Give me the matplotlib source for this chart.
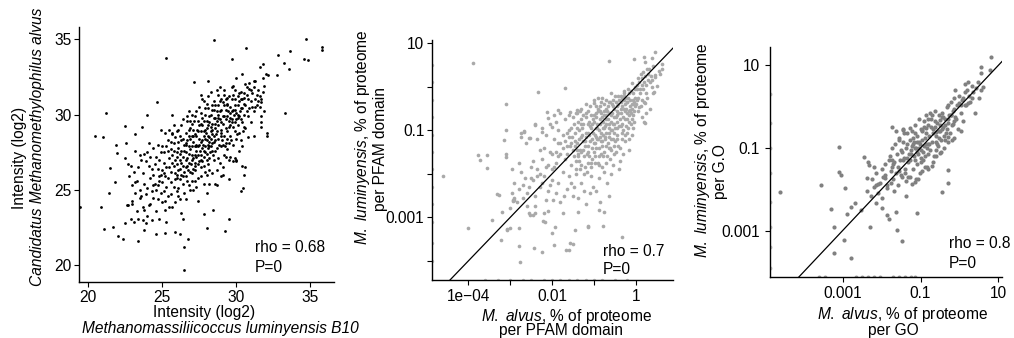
import matplotlib
matplotlib.use("Agg")
import matplotlib.pyplot as plt
import numpy as np

plt.rcParams['font.family'] = ['Liberation Sans', 'DejaVu Sans']
plt.rcParams['font.size'] = 11.2
plt.rcParams['mathtext.fontset'] = 'custom'
plt.rcParams['mathtext.rm'] = 'Liberation Sans'
plt.rcParams['mathtext.it'] = 'Liberation Sans:italic'

# ---- panel 1: log2 intensities (M. luminyensis x, M. alvus y) ----
p1_pts = [
    # sparse / outliers
    (19.5, 23.85), (20.5, 28.55), (20.9, 23.9), (21.0, 28.5), (21.1, 22.4), (21.2, 30.1), (21.4, 24.8),
    (21.5, 26.45), (21.7, 22.55), (21.8, 25.55), (21.9, 27.95), (21.95, 27.45), (22.0, 21.95), (22.4, 21.75),
    (22.5, 29.25), (22.5, 27.1), (22.5, 22.8), (22.6, 28.1), (22.65, 24.0), (22.7, 26.75), (22.9, 23.1),
    (23.0, 24.3), (23.15, 25.55), (23.2, 28.7), (23.4, 21.65), (23.65, 29.2), (23.8, 23.65), (23.75, 23.0),
    (23.8, 22.35), (24.0, 29.95), (24.65, 30.8), (24.6, 22.05), (25.2, 22.15), (25.3, 33.75), (25.65, 29.95),
    (25.65, 28.75), (25.9, 22.2), (26.2, 22.05), (26.5, 21.2), (26.75, 21.75), (26.5, 19.7), (27.15, 32.15),
    (28.1, 32.2), (28.5, 34.95), (28.05, 22.5), (29.25, 22.3), (29.5, 23.1), (29.7, 33.65), (30.65, 34.4),
    (30.4, 32.7), (33.3, 30.1), (32.8, 33.95), (33.2, 33.4), (33.55, 33.0), (33.6, 34.2), (34.6, 33.65),
    (34.85, 33.6), (34.7, 35.0), (35.8, 34.5), (35.8, 34.3), (32.75, 32.6), (32.15, 32.6), (31.8, 33.35),
    (31.6, 33.15), (31.2, 32.2), (32.05, 28.75), (32.1, 28.55), (31.7, 29.15), (31.65, 29.5), (31.2, 28.55),
    (30.6, 26.5), (30.5, 26.0), (30.45, 25.1), (30.3, 24.9), (28.45, 23.65), (27.8, 23.4), (28.7, 25.3),
    (29.1, 26.0), (29.5, 25.75), (29.95, 27.1),
    # 22.5 - 23.5
    (22.8, 25.9), (23.0, 25.3), (23.1, 26.2), (23.2, 24.8), (23.3, 25.6), (23.4, 26.5), (23.0, 24.1),
    (23.3, 23.6), (23.5, 27.3), (23.5, 24.5), (22.9, 26.6), (23.2, 27.6), (23.4, 23.1), (23.1, 22.9),
    (22.7, 24.0), (23.5, 25.0),
    # 23.5 - 24.5
    (23.6, 27.0), (23.7, 26.1), (23.8, 25.4), (23.9, 24.7), (24.0, 27.5), (24.1, 26.6), (24.2, 25.8),
    (24.3, 24.9), (24.4, 27.8), (23.7, 23.9), (23.9, 22.8), (24.0, 23.3), (24.2, 24.1), (24.4, 26.0),
    (23.8, 27.4), (24.1, 28.1), (24.3, 23.0), (24.5, 25.4), (24.0, 25.1), (23.6, 24.6), (24.2, 27.2),
    (24.4, 24.5), (23.9, 26.9), (24.1, 24.0), (24.3, 26.4),
    # 24.5 - 25.5
    (24.6, 27.2), (24.7, 26.4), (24.8, 25.6), (24.9, 24.8), (25.0, 27.9), (25.1, 26.8), (25.2, 25.9),
    (25.3, 25.2), (25.4, 28.3), (24.6, 23.6), (24.8, 23.1), (25.0, 24.2), (25.2, 23.7), (25.4, 24.6),
    (24.7, 28.0), (24.9, 26.0), (25.1, 27.5), (25.3, 26.5), (25.5, 27.1), (24.6, 25.0), (24.8, 27.0),
    (25.0, 25.5), (25.2, 28.8), (25.4, 25.8), (25.5, 23.9), (24.7, 24.4), (25.1, 24.9), (25.3, 22.9),
    (25.0, 26.3), (24.9, 29.0), (25.5, 29.0),
    (24.5, 26.7), (24.8, 25.9), (25.1, 26.1), (25.4, 27.6), (24.4, 25.3), (25.2, 24.3), (25.5, 26.5),
    (24.7, 25.3), (24.9, 27.5), (25.3, 27.9),
    # 25.5 - 26.5
    (25.6, 26.2), (25.7, 27.3), (25.8, 28.1), (25.9, 25.7), (26.0, 26.7), (26.1, 27.8), (26.2, 28.6),
    (26.3, 26.0), (26.4, 27.2), (25.6, 24.7), (25.8, 25.2), (26.0, 25.8), (26.2, 24.4), (26.4, 25.4),
    (25.7, 28.7), (25.9, 27.0), (26.1, 26.3), (26.3, 29.3), (26.5, 28.0), (25.6, 28.2), (25.8, 26.6),
    (26.0, 28.9), (26.2, 27.0), (26.4, 26.6), (25.7, 23.9), (25.9, 24.2), (26.1, 25.1), (26.3, 23.5),
    (26.5, 24.8), (26.0, 27.5), (26.2, 25.7), (25.8, 29.3), (26.4, 29.7), (25.9, 26.1), (26.1, 28.2),
    (26.3, 27.6), (26.5, 26.2), (25.6, 27.7), (26.2, 26.4), (26.0, 24.9), (26.4, 23.1),
    (25.6, 25.5), (25.7, 26.8), (25.8, 27.6), (25.9, 28.5), (26.0, 26.0), (26.1, 24.6), (26.2, 27.4),
    (26.3, 28.3), (26.4, 25.9), (26.5, 27.6), (26.0, 27.2), (26.3, 26.8), (26.1, 29.0), (26.4, 28.4),
    # 26.5 - 27.5
    (26.6, 27.5), (26.7, 28.3), (26.8, 26.8), (26.9, 29.1), (27.0, 27.9), (27.1, 26.4), (27.2, 28.7),
    (27.3, 27.2), (27.4, 29.6), (26.6, 25.9), (26.8, 25.3), (27.0, 26.1), (27.2, 25.6), (27.4, 26.7),
    (26.7, 29.6), (26.9, 27.7), (27.1, 28.2), (27.3, 30.2), (27.5, 28.4), (26.6, 28.8), (26.8, 27.9),
    (27.0, 29.4), (27.2, 27.3), (27.4, 27.9), (26.7, 26.6), (26.9, 26.2), (27.1, 27.1), (27.3, 25.2),
    (27.5, 26.9), (27.0, 30.0), (26.8, 30.2), (27.2, 29.9), (26.6, 24.4), (27.4, 24.3), (26.9, 25.0),
    (27.1, 29.0), (27.3, 28.6), (27.5, 30.5), (26.7, 27.1), (27.0, 28.6), (27.2, 26.8), (27.4, 28.9),
    (26.8, 28.6), (27.1, 25.0), (26.6, 26.5), (27.3, 27.6),
    (26.6, 27.0), (26.65, 28.0), (26.7, 25.6), (26.75, 26.3), (26.8, 29.0), (26.85, 27.4), (26.9, 28.4),
    (26.95, 26.7), (27.0, 25.6), (27.05, 27.0), (27.1, 28.6), (27.15, 29.6), (27.2, 27.9), (27.25, 26.3),
    (27.3, 28.0), (27.35, 29.0), (27.4, 27.3), (27.45, 25.8), (27.5, 29.3), (26.6, 28.1), (26.9, 29.6),
    (27.2, 26.6), (27.0, 27.3), (27.3, 27.9), (26.7, 29.9),
    # 27.5 - 28.5
    (27.6, 28.9), (27.7, 29.8), (27.8, 27.6), (27.9, 30.4), (28.0, 28.3), (28.1, 29.3), (28.2, 27.1),
    (28.3, 30.0), (28.4, 28.7), (27.6, 27.3), (27.8, 26.6), (28.0, 27.4), (28.2, 26.3), (28.4, 27.6),
    (27.7, 28.3), (27.9, 29.0), (28.1, 28.0), (28.3, 29.2), (28.5, 29.8), (27.6, 30.1), (27.8, 28.6),
    (28.0, 30.7), (28.2, 28.5), (28.4, 30.6), (27.7, 26.9), (27.9, 27.9), (28.1, 26.7), (28.3, 27.9),
    (28.5, 28.2), (27.6, 25.9), (27.8, 25.4), (28.0, 26.0), (28.2, 25.4), (28.4, 26.1), (27.7, 31.0),
    (28.1, 31.2), (28.3, 31.5), (27.9, 28.4), (28.0, 29.6), (28.2, 29.9), (28.4, 29.4), (27.6, 29.4),
    (27.8, 30.9), (28.5, 27.0), (28.1, 27.8), (27.9, 26.2), (28.3, 28.4), (27.7, 27.8), (28.5, 30.3),
    (28.0, 24.8),
    (27.55, 27.6), (27.6, 28.2), (27.65, 26.5), (27.7, 29.3), (27.75, 28.0), (27.8, 29.6), (27.85, 27.2),
    (27.9, 30.0), (27.95, 28.8), (28.0, 27.0), (28.05, 29.1), (28.1, 30.4), (28.15, 28.2), (28.2, 29.5),
    (28.25, 27.5), (28.3, 28.9), (28.35, 30.3), (28.4, 29.0), (28.45, 27.3), (28.5, 28.6), (27.5, 28.0),
    (27.8, 28.9), (28.1, 28.6), (28.4, 28.1), (27.6, 27.0), (27.9, 27.5), (28.2, 27.9), (28.5, 30.9),
    (27.6, 31.3),
    # 28.5 - 29.5
    (28.6, 29.1), (28.7, 30.2), (28.8, 28.4), (28.9, 30.9), (29.0, 29.5), (29.1, 28.0), (29.2, 30.6),
    (29.3, 29.1), (29.4, 31.1), (28.6, 27.6), (28.8, 27.1), (29.0, 27.9), (29.2, 27.3), (29.4, 28.4),
    (28.7, 28.9), (28.9, 29.7), (29.1, 29.9), (29.3, 30.3), (29.5, 29.6), (28.6, 30.6), (28.8, 31.3),
    (29.0, 31.0), (29.2, 28.6), (29.4, 29.9), (28.7, 26.3), (28.9, 26.8), (29.1, 26.5), (29.3, 27.2),
    (29.5, 28.1), (28.6, 28.3), (29.0, 28.6), (29.2, 31.6), (29.4, 30.6), (28.8, 29.8), (29.1, 30.8),
    (29.3, 28.1), (28.6, 25.4), (29.0, 25.9), (29.5, 27.0), (28.9, 31.8), (29.4, 27.7), (28.7, 31.6),
    (28.55, 29.4), (28.6, 29.8), (28.65, 28.7), (28.7, 27.8), (28.75, 30.6), (28.8, 29.3), (28.85, 28.0),
    (28.9, 30.2), (28.95, 29.0), (29.0, 30.3), (29.05, 28.3), (29.1, 29.4), (29.15, 31.3), (29.2, 29.9),
    (29.25, 27.9), (29.3, 29.7), (29.35, 30.7), (29.4, 28.9), (29.45, 30.2), (29.5, 31.2), (28.7, 29.6),
    (29.0, 28.8), (29.3, 31.0), (28.8, 30.0),
    # 29.5 - 30.5
    (29.6, 30.1), (29.7, 31.0), (29.8, 29.2), (29.9, 30.6), (30.0, 29.7), (30.1, 31.2), (30.2, 28.8),
    (30.3, 30.4), (30.4, 29.5), (29.6, 28.6), (29.8, 28.0), (30.0, 28.4), (30.2, 27.6), (30.4, 27.9),
    (29.7, 29.5), (29.9, 31.6), (30.1, 30.0), (30.3, 31.5), (30.5, 30.7), (29.6, 27.2), (29.8, 26.9),
    (30.0, 27.0), (30.2, 29.9), (30.4, 31.0), (29.7, 31.8), (30.0, 32.4), (29.9, 28.9), (30.1, 29.3),
    (30.3, 28.3), (30.5, 29.2), (29.6, 29.8), (30.2, 30.9), (29.8, 30.3), (30.0, 26.9), (30.4, 26.6),
    (29.55, 29.2), (29.6, 30.5), (29.65, 28.3), (29.7, 30.2), (29.75, 29.7), (29.8, 31.3), (29.85, 30.0),
    (29.9, 29.5), (29.95, 31.0), (30.0, 30.1), (30.05, 28.7), (30.1, 30.6), (30.15, 29.8), (30.2, 31.4),
    (30.25, 30.2), (30.3, 29.7), (30.35, 31.0), (30.4, 30.4), (30.45, 28.9), (30.5, 31.4), (30.55, 30.0),
    (29.6, 29.3), (29.9, 30.3), (29.8, 31.9),
    # 30.5 - 32.5
    (30.6, 30.6), (30.7, 31.3), (30.8, 29.9), (30.9, 31.7), (31.0, 30.9), (31.1, 31.4), (31.2, 30.2),
    (31.3, 31.0), (31.4, 30.6), (30.6, 29.1), (30.8, 28.5), (31.0, 29.5), (30.6, 32.0), (30.9, 32.1),
    (31.2, 31.8), (31.4, 31.3), (30.7, 30.2), (31.1, 30.5), (31.3, 32.2), (31.5, 31.6), (30.5, 31.1),
    (30.8, 31.0), (31.5, 30.9), (31.6, 31.2), (31.7, 30.8), (31.8, 31.5), (31.7, 31.0), (31.9, 31.9),
    (31.6, 30.5), (31.8, 32.4), (32.0, 32.7), (31.7, 29.9), (31.9, 30.2), (30.7, 31.8), (31.0, 31.6),
    (30.9, 30.4), (31.3, 30.5),
]

# ---- panel 2: log10 % of proteome per PFAM domain (alvus x, luminyensis y) ----
p2_pts = [
    (-4.61, -2.05), (-3.9, 0.54), (-4.0, -3.25), (-3.76, -1.57), (-3.72, -1.68), (-3.55, -1.57), (-3.55, -1.87),
    (-3.43, -3.05), (-3.31, -2.47), (-3.22, -3.52), (-3.2, -2.87), (-3.1, -0.39), (-3.1, -0.99), (-3.09, -1.54),
    (-3.07, -3.28), (-3.0, -2.79), (-2.94, -2.62), (-2.91, -2.59), (-2.78, -3.67), (-2.76, -4.02), (-2.78, -3.25),
    (-2.66, -1.04), (-2.43, -3.71), (-2.33, -0.11), (-2.23, -3.79), (-2.01, -3.37), (-1.95, -3.64), (-1.7, -0.03),
    (-1.66, -3.76), (-1.59, -3.74), (-1.57, -3.58), (-1.37, -2.87), (-1.15, -3.21), (-0.79, -3.21), (-0.75, -2.88),
    (-0.63, 0.6), (-0.33, -3.46), (-0.04, 0.63), (0.2, -0.82), (0.19, 0.68), (0.23, 0.56), (0.39, 0.66),
    (0.47, 0.81), (0.41, 0.47), (0.59, 0.29), (0.47, 0.22), (0.43, -0.11), (0.63, 0.52), (0.55, 0.36),
    (0.5, 0.02), (0.62, 0.4), (-3.16, -1.22), (-3.08, -3.27), (-3.01, -3.25), (-2.93, -2.6), (-2.52, -2.95),
    (-2.40, -2.90), (-2.17, -3.10), (-2.21, -3.08), (-1.93, -3.22), (-1.50, -3.61), (-1.45, -3.28), (-1.13, -3.22),
    (-0.89, -2.82), (-2.12, -0.57), (-1.85, -0.53), (-1.57, -0.57), (-1.41, -0.53), (-1.01, -0.37), (-0.65, -0.34),
    (-0.29, -0.15), (-0.05, -0.34), (0.07, -0.46), (0.23, -0.38), (-0.13, -0.53), (0.21, -0.83), (0.41, -0.14),
    (-2.75, -1.07), (-2.67, -1.02), (-2.55, -1.18), (-2.40, -0.86), (-2.24, -1.03), (-2.09, -0.72), (-2.0, -0.92),
    (-3.10, -1.61), (-3.28, -2.49),
    # -3.0 .. -2.5
    (-2.95, -2.45), (-2.9, -2.2), (-2.85, -2.65), (-2.8, -2.35), (-2.75, -1.95), (-2.7, -2.55), (-2.65, -2.1),
    (-2.6, -2.75), (-2.55, -2.3), (-2.5, -1.85), (-2.9, -2.55), (-2.7, -2.25), (-2.6, -2.45), (-2.55, -2.9),
    (-2.8, -1.75), (-2.52, -1.18), (-2.62, -1.3), (-2.95, -1.9), (-2.75, -1.15), (-2.5, -2.1),
    # -2.5 .. -2.0
    (-2.45, -2.15), (-2.4, -2.5), (-2.35, -1.9), (-2.3, -2.3), (-2.25, -1.65), (-2.2, -2.05), (-2.15, -2.6),
    (-2.1, -1.8), (-2.05, -2.25), (-2.0, -1.55), (-2.45, -1.7), (-2.4, -2.75), (-2.3, -2.0), (-2.2, -1.4),
    (-2.1, -2.4), (-2.35, -1.2), (-2.25, -0.95), (-2.15, -1.1), (-2.05, -0.85), (-2.4, -0.88), (-2.3, -1.45),
    (-2.1, -2.85), (-2.0, -2.15), (-2.45, -2.95), (-2.2, -2.9), (-2.05, -1.5), (-2.15, -1.85), (-2.25, -2.2),
    (-2.35, -2.05), (-2.0, -1.9),
    # -2.0 .. -1.5
    (-1.95, -1.85), (-1.9, -1.5), (-1.85, -2.2), (-1.8, -1.3), (-1.75, -1.95), (-1.7, -1.65), (-1.65, -2.35),
    (-1.6, -1.15), (-1.55, -1.8), (-1.5, -1.45), (-1.95, -1.2), (-1.9, -2.45), (-1.85, -1.0), (-1.8, -2.65),
    (-1.75, -1.4), (-1.7, -0.75), (-1.65, -1.05), (-1.6, -2.05), (-1.55, -0.95), (-1.5, -2.5), (-1.95, -0.65),
    (-1.85, -1.6), (-1.75, -2.9), (-1.65, -1.55), (-1.55, -2.2), (-1.9, -0.8), (-1.8, -0.6), (-1.7, -1.25),
    (-1.6, -0.65), (-1.52, -1.15), (-1.98, -2.6), (-1.72, -2.5), (-1.58, -1.35), (-1.6, -1.0), (-1.55, -1.3),
    (-1.5, -0.7), (-1.65, -1.35), (-1.75, -1.1), (-1.8, -1.55), (-1.85, -1.3), (-1.9, -1.75),
    # -1.5 .. -1.0
    (-1.48, -1.6), (-1.45, -1.05), (-1.42, -1.9), (-1.4, -1.3), (-1.38, -0.8), (-1.35, -1.7), (-1.32, -1.15),
    (-1.3, -2.2), (-1.28, -0.95), (-1.25, -1.45), (-1.22, -1.85), (-1.2, -1.05), (-1.18, -0.7), (-1.15, -1.35),
    (-1.12, -1.6), (-1.1, -0.9), (-1.08, -2.05), (-1.05, -1.2), (-1.02, -0.75), (-1.0, -1.5), (-1.47, -2.3),
    (-1.43, -0.6), (-1.37, -2.55), (-1.33, -0.55), (-1.27, -1.25), (-1.23, -2.4), (-1.17, -1.55), (-1.13, -0.55),
    (-1.07, -1.75), (-1.03, -2.3), (-1.46, -1.25), (-1.41, -1.45), (-1.36, -1.0), (-1.31, -1.8), (-1.26, -0.65),
    (-1.21, -1.25), (-1.16, -1.95), (-1.11, -1.1), (-1.06, -0.95), (-1.01, -1.3), (-1.44, -2.0), (-1.34, -1.45),
    (-1.24, -1.6), (-1.14, -0.85), (-1.04, -1.65), (-1.3, -0.85), (-1.2, -2.7), (-1.1, -2.45), (-1.48, -0.85),
    (-1.39, -1.6),
    (-1.45, -1.35), (-1.4, -0.95), (-1.38, -1.55), (-1.35, -1.2), (-1.32, -0.75), (-1.3, -1.5), (-1.28, -1.1),
    (-1.25, -0.85), (-1.22, -1.35), (-1.2, -0.6), (-1.18, -1.15), (-1.15, -1.75), (-1.12, -0.8), (-1.1, -1.25),
    (-1.08, -0.65), (-1.05, -1.4), (-1.02, -1.05), (-1.42, -1.7), (-1.33, -1.9), (-1.24, -2.0), (-1.15, -1.5),
    (-1.06, -1.85), (-1.2, -0.4), (-1.1, -0.45), (-1.3, -0.5), (-1.4, -0.6), (-1.15, -1.05), (-1.05, -0.85),
    # -1.0 .. -0.5
    (-0.98, -1.1), (-0.96, -0.6), (-0.94, -1.4), (-0.92, -0.85), (-0.9, -1.75), (-0.88, -1.0), (-0.86, -0.45),
    (-0.84, -1.25), (-0.82, -1.55), (-0.8, -0.7), (-0.78, -1.1), (-0.76, -1.95), (-0.74, -0.9), (-0.72, -0.5),
    (-0.7, -1.35), (-0.68, -1.6), (-0.66, -0.75), (-0.64, -1.15), (-0.62, -0.35), (-0.6, -1.0), (-0.58, -1.45),
    (-0.56, -0.6), (-0.54, -1.8), (-0.52, -0.85), (-0.5, -1.25), (-0.97, -1.3), (-0.93, -0.95), (-0.89, -2.1),
    (-0.85, -0.75), (-0.81, -1.35), (-0.77, -0.55), (-0.73, -1.2), (-0.69, -2.2), (-0.65, -0.95), (-0.61, -1.65),
    (-0.57, -0.4), (-0.53, -1.05), (-0.95, -2.4), (-0.87, -1.6), (-0.79, -0.95), (-0.71, -0.65), (-0.63, -1.4),
    (-0.55, -1.2), (-0.91, -0.5), (-0.83, -0.35), (-0.75, -1.5), (-0.67, -0.45), (-0.59, -0.8), (-0.51, -0.5),
    (-0.99, -0.8), (-0.9, -1.2), (-0.8, -1.85), (-0.7, -0.85), (-0.6, -2.0), (-0.52, -1.55), (-0.85, -2.65),
    (-0.65, -2.5),
    (-1.0, -0.65), (-0.98, -1.6), (-0.96, -0.95), (-0.94, -0.7), (-0.92, -1.2), (-0.9, -0.55), (-0.88, -1.4),
    (-0.86, -0.85), (-0.84, -1.05), (-0.82, -0.6), (-0.8, -1.25), (-0.78, -0.8), (-0.76, -0.4), (-0.74, -1.15),
    (-0.72, -0.75), (-0.7, -1.05), (-0.68, -0.55), (-0.66, -1.3), (-0.64, -0.85), (-0.62, -0.6), (-0.6, -1.2),
    (-0.58, -0.65), (-0.56, -1.0), (-0.54, -0.45), (-0.52, -0.7), (-0.5, -0.95), (-0.97, -1.75), (-0.88, -1.8),
    (-0.79, -1.6), (-0.7, -1.75), (-0.61, -1.4), (-0.52, -1.35), (-1.0, -0.3), (-0.8, -0.25), (-0.6, -0.15),
    (-0.9, -0.25), (-0.7, -0.3), (-0.95, -1.15), (-0.85, -1.15), (-0.75, -0.95), (-0.65, -1.05), (-0.55, -0.85),
    (-0.95, -0.45), (-0.85, -0.55), (-0.75, -0.65), (-0.65, -0.6), (-0.55, -0.3),
    # -0.5 .. 0
    (-0.48, -0.7), (-0.45, -1.1), (-0.42, -0.4), (-0.4, -0.9), (-0.38, -1.4), (-0.35, -0.6), (-0.32, -0.25),
    (-0.3, -1.0), (-0.28, -0.5), (-0.25, -1.25), (-0.22, -0.75), (-0.2, -0.35), (-0.18, -0.95), (-0.15, -0.15),
    (-0.12, -0.6), (-0.1, -1.1), (-0.08, -0.4), (-0.05, -0.8), (-0.02, -0.25), (-0.47, -1.5), (-0.43, -0.2),
    (-0.37, -1.7), (-0.33, -0.85), (-0.27, -0.1), (-0.23, -0.5), (-0.17, -1.45), (-0.13, -0.3), (-0.07, -0.65),
    (-0.03, 0.0), (-0.46, -0.95), (-0.36, -0.35), (-0.26, -0.75), (-0.16, -0.55), (-0.06, -0.15), (-0.41, -1.9),
    (-0.31, -1.55), (-0.21, -1.05), (-0.11, -0.85), (-0.01, -0.45), (-0.44, -0.55), (-0.29, -0.3), (-0.19, -0.05),
    (-0.09, 0.08),
    (-0.48, -0.35), (-0.46, -0.8), (-0.44, -1.2), (-0.42, -0.6), (-0.4, -0.3), (-0.38, -0.75), (-0.36, -0.5),
    (-0.34, -1.05), (-0.32, -0.45), (-0.3, -0.7), (-0.28, -0.2), (-0.26, -0.55), (-0.24, -0.9), (-0.22, -0.35),
    (-0.2, -0.6), (-0.18, -0.25), (-0.16, -0.8), (-0.14, -0.45), (-0.12, -0.1), (-0.1, -0.5), (-0.08, -0.75),
    (-0.06, -0.3), (-0.04, -0.55), (-0.02, -0.05), (-0.43, -1.35), (-0.34, -1.2), (-0.25, -1.1), (-0.16, -1.2),
    (-0.07, -0.95), (-0.5, -0.2), (-0.45, -0.65), (-0.35, -0.9), (-0.25, -0.4), (-0.15, -0.65), (-0.05, -0.4),
    (-0.45, -0.45), (-0.35, -0.2), (-0.25, -0.25),
    # 0 .. 0.5
    (0.02, -0.3), (0.05, -0.55), (0.08, 0.1), (0.1, -0.15), (0.12, -0.45), (0.15, 0.2), (0.18, -0.05),
    (0.2, -0.35), (0.22, 0.25), (0.25, 0.05), (0.28, -0.25), (0.3, 0.3), (0.33, 0.1), (0.35, -0.5),
    (0.04, -0.05), (0.14, -0.7), (0.24, -0.6), (0.32, 0.4), (0.38, 0.15), (0.45, 0.28), (0.06, 0.2),
    (0.16, 0.05), (0.0, -0.4), (0.03, 0.05), (0.06, -0.25), (0.1, -0.05), (0.15, -0.3), (0.2, 0.1),
    (0.25, -0.15), (0.3, 0.15), (0.12, 0.3), (0.18, 0.35), (0.28, 0.4), (0.36, 0.25), (0.4, 0.0),
]
# zero abundance in one species (drawn on the axis floor)
p2_zero_lumin_x = [-3.6, -3.3, -3.0, -2.7, -2.5, -2.2, -2.0, -1.8, -1.6, -1.4, -1.2, -1.0, -0.8, -0.5, -0.2]
p2_zero_alvus_y = [-4.0, -3.6, -3.1, -2.7, -2.3, -1.9, -1.5, -1.1, -0.7, -0.3, 0.1, 0.5]

# ---- panel 3: log10 % of proteome per GO term ----
p3_pts = [
    (-4.6, -2.06), (-3.55, -1.89), (-3.29, -2.48), (-3.21, -2.90), (-3.21, -3.53), (-3.10, -0.98), (-3.08, -1.58),
    (-3.04, -1.66), (-2.93, -1.97), (-2.97, -3.22), (-2.89, -2.6), (-2.79, -3.66), (-2.77, -2.43), (-2.67, -2.33),
    (-2.53, -2.49), (-2.44, -1.22), (-2.34, -1.34), (-2.32, -1.42), (-2.38, -1.72), (-2.30, -2.91), (-2.36, -2.04),
    (-2.26, -2.15), (-2.15, -2.33), (-2.13, -1.90), (-2.08, -1.86), (-1.98, -2.45), (-1.91, -1.66), (-1.90, -1.72),
    (-1.87, -2.63), (-1.81, -2.71), (-1.85, -1.96), (-1.73, -1.46), (-1.70, -1.38), (-1.72, -1.28), (-1.62, -2.55),
    (-1.60, -2.98), (-1.47, -3.25), (-1.49, -1.66), (-1.40, -1.61), (-1.33, -1.70), (-1.37, -2.15), (-1.08, -2.57),
    (-1.23, -1.86), (-1.14, -1.82), (-1.06, -1.76), (-0.89, -1.46), (-0.80, -1.50), (-0.70, -1.44), (-0.59, -1.20),
    (-0.50, -1.12), (-0.29, -1.54), (-0.29, -1.85), (-0.44, -2.06), (-1.73, -0.49), (-1.44, -0.57), (-1.42, -0.65),
    (-1.27, -0.51), (-1.55, -0.81), (-1.14, -1.01), (-0.97, -0.57), (-0.85, -0.51), (-0.63, -0.49), (-0.59, -0.61),
    (-0.50, -0.33), (-0.46, -0.25), (-0.29, 0.03), (-0.22, -0.21), (-0.12, -0.25), (-0.17, -0.41), (0.0, 0.09),
    (0.14, 0.03), (0.22, 0.09), (0.31, 0.20), (0.39, -0.15), (0.56, 0.40), (0.59, 0.48), (0.56, 0.96),
    (0.56, 0.82), (0.78, 0.88), (0.81, 1.20), (-0.29, -0.73), (-0.19, -0.81),
    # cluster
    (-2.25, -1.75), (-2.2, -1.95), (-2.15, -1.6), (-2.1, -2.1), (-2.05, -1.85), (-2.0, -1.5), (-1.95, -1.7),
    (-1.9, -1.4), (-1.85, -1.9), (-1.82, -1.3), (-2.18, -1.45), (-1.98, -2.2),
    (-1.78, -1.2), (-1.75, -1.55), (-1.72, -1.0), (-1.7, -1.75), (-1.67, -1.35), (-1.65, -0.9), (-1.62, -1.6),
    (-1.6, -1.15), (-1.57, -1.45), (-1.55, -0.75), (-1.52, -1.3), (-1.5, -1.05), (-1.47, -1.7), (-1.45, -0.85),
    (-1.42, -1.25), (-1.4, -1.5), (-1.37, -1.0), (-1.35, -0.65), (-1.32, -1.35), (-1.3, -1.15), (-1.76, -1.85),
    (-1.68, -2.05), (-1.58, -1.9), (-1.48, -1.1), (-1.38, -1.8), (-1.63, -0.6), (-1.44, -0.55), (-1.34, -0.9),
    (-1.28, -0.8), (-1.26, -1.3), (-1.24, -1.05), (-1.22, -0.6), (-1.2, -1.5), (-1.18, -0.9), (-1.16, -1.2),
    (-1.14, -0.45), (-1.12, -1.0), (-1.1, -1.4), (-1.08, -0.7), (-1.06, -1.15), (-1.04, -0.85), (-1.02, -1.6),
    (-1.0, -0.55), (-0.98, -1.05), (-0.96, -0.8), (-0.94, -1.3), (-0.92, -0.35), (-0.9, -0.95), (-0.88, -1.2),
    (-0.86, -0.65), (-0.84, -1.45), (-0.82, -0.9), (-0.8, -0.45), (-1.27, -1.7), (-1.19, -0.75), (-1.11, -1.75),
    (-1.03, -0.3), (-0.95, -1.55), (-0.87, -0.2), (-0.81, -1.15), (-1.21, -0.95), (-1.13, -1.3), (-1.05, -1.0),
    (-0.97, -0.6), (-0.89, -0.75), (-0.83, -1.0), (-1.15, -0.65), (-0.99, -1.25),
    (-0.78, -0.7), (-0.75, -1.05), (-0.72, -0.3), (-0.7, -0.85), (-0.67, -0.55), (-0.65, -1.2), (-0.62, -0.1),
    (-0.6, -0.7), (-0.57, -0.4), (-0.55, -0.95), (-0.52, -0.2), (-0.5, -0.6), (-0.47, -0.8), (-0.45, -0.15),
    (-0.42, -0.5), (-0.4, -1.0), (-0.37, -0.3), (-0.35, -0.65), (-0.32, 0.0), (-0.3, -0.4), (-0.76, -0.15),
    (-0.68, -1.35), (-0.58, -0.9), (-0.48, -1.1), (-0.38, -0.8), (-0.63, -0.35), (-0.53, -0.6), (-0.43, -0.25),
    (-0.33, -0.55), (-0.73, -0.5),
    (-0.27, -0.2), (-0.23, 0.1), (-0.2, -0.45), (-0.17, -0.1), (-0.13, 0.2), (-0.1, -0.3), (-0.07, 0.05),
    (-0.03, -0.55), (0.0, 0.25), (0.03, -0.15), (0.07, 0.15), (0.1, -0.35), (0.13, 0.35), (0.17, 0.05),
    (0.2, 0.4), (0.25, 0.25), (0.28, 0.1), (-0.25, -0.65), (-0.15, -0.75), (0.05, -0.6), (-0.12, 0.4),
    (0.15, 0.55), (0.22, 0.6), (0.33, 0.5), (0.35, 0.35), (0.42, 0.45), (0.5, 0.2), (0.47, 0.6),
    (-1.25, -1.15), (-1.17, -0.85), (-1.09, -1.1), (-1.01, -0.9), (-0.93, -1.1), (-0.85, -0.9), (-0.77, -0.9),
    (-0.69, -0.65), (-0.61, -0.85), (-0.53, -0.75), (-0.45, -0.55), (-0.37, -0.45), (-0.29, -0.3), (-0.21, -0.2),
    (-0.13, -0.05), (-1.35, -1.25), (-1.45, -1.3), (-1.55, -1.55), (-1.0, -1.35), (-0.9, -0.5), (-0.8, -0.3),
    (-0.7, -0.2), (-1.1, -0.85), (-0.6, -1.05), (-0.5, -0.45), (-0.4, -0.7), (-0.3, -0.85), (-0.15, -0.35),
    (0.05, 0.05), (0.1, 0.2),
]
p3_zero_lumin_x = [-3.6, -3.45, -2.65, -2.5, -2.35, -2.2, -2.05, -1.7, -1.55, -1.4, -1.25, -1.15]
p3_zero_alvus_y = [-3.9, -3.4, -2.9, -2.3, -1.6, -1.0, -0.4, 0.3]

p1_x = [p[0] for p in p1_pts]
p1_y = [p[1] for p in p1_pts]
p2_x = 10 ** np.array([p[0] for p in p2_pts])
p2_y = 10 ** np.array([p[1] for p in p2_pts])
p3_x = 10 ** np.array([p[0] for p in p3_pts])
p3_y = 10 ** np.array([p[1] for p in p3_pts])

W, H = 1014, 338
fig = plt.figure(figsize=(W / 100, H / 100), dpi=100)


def box(l, t, r, b):
    return [l / W, 1 - b / H, (r - l) / W, (b - t) / H]


def ftext(x, y, s, **kw):
    fig.text(x / W, 1 - y / H, s, **kw)


def style(ax):
    for s in ['top', 'right']:
        ax.spines[s].set_visible(False)
    for s in ['left', 'bottom']:
        ax.spines[s].set_linewidth(1.0)
    ax.tick_params(direction='out', length=3.5, width=0.8, pad=2, labelsize=11.2)
    ax.minorticks_off()


# panel 1
ax1 = fig.add_axes(box(79, 27, 334, 282))
ax1.scatter(p1_x, p1_y, s=4, color='black', linewidths=0)
ax1.set_xlim(19.4, 36.6)
ax1.set_ylim(18.9, 35.8)
ax1.set_xticks([20, 25, 30, 35])
ax1.set_yticks([20, 25, 30, 35])
style(ax1)
ftext(20, 158, 'Intensity (log2)', rotation=90, ha='center', va='center')
ftext(38, 147, 'Candidatus Methanomethylophilus alvus', rotation=90, ha='center', va='center', style='italic')
ftext(204, 312, 'Intensity (log2)', ha='center', va='center')
ftext(220, 328, 'Methanomassiliicoccus luminyensis B10', ha='center', va='center', style='italic')
ftext(255, 248, 'rho = 0.68', ha='left', va='center')
ftext(255, 267, 'P=0', ha='left', va='center')

# panel 2
ax2 = fig.add_axes(box(432, 40, 673, 280))
ax2.set_xscale('log')
ax2.set_yscale('log')
x2lo, x2hi = 10 ** -4.87, 10 ** 0.89
y2lo, y2hi = 10 ** -4.44, 10 ** 1.076
ax2.scatter(10 ** np.array(p2_zero_lumin_x), [y2lo] * len(p2_zero_lumin_x), s=6, color='#bbbbbb', linewidths=0)
ax2.scatter([x2lo] * len(p2_zero_alvus_y), 10 ** np.array(p2_zero_alvus_y), s=6, color='#bbbbbb', linewidths=0)
ax2.scatter(p2_x, p2_y, s=7, color='#a9a9a9', linewidths=0)
ax2.axline((1e-3, 1e-3), (1, 1), color='black', lw=0.9)
ax2.set_xlim(x2lo, x2hi)
ax2.set_ylim(y2lo, y2hi)
ax2.set_xticks([1e-4, 1e-3, 1e-2, 1e-1, 1])
ax2.set_xticklabels(['1e\u221204', '', '0.01', '', '1'])
ax2.set_yticks([1e-4, 1e-3, 1e-2, 1e-1, 1, 10])
ax2.set_yticklabels(['', '0.001', '', '0.1', '', '10'])
style(ax2)
ax2.tick_params(axis='x', pad=3)
ftext(362, 137, r'$\mathit{M.\ luminyensis}$, % of proteome', rotation=90, ha='center', va='center')
ftext(380, 149, 'per PFAM domain', rotation=90, ha='center', va='center')
ftext(566, 316, r'$\mathit{M.\ alvus}$, % of proteome', ha='center', va='center')
ftext(561, 331, 'per PFAM domain', ha='center', va='center')
ftext(603, 252, 'rho = 0.7', ha='left', va='center')
ftext(603, 269, 'P=0', ha='left', va='center')

# panel 3
ax3 = fig.add_axes(box(770, 47, 1002, 277))
ax3.set_xscale('log')
ax3.set_yscale('log')
x3lo, x3hi = 10 ** -4.86, 10 ** 1.09
y3lo, y3hi = 10 ** -4.12, 10 ** 1.44
ax3.scatter(10 ** np.array(p3_zero_lumin_x), [y3lo] * len(p3_zero_lumin_x), s=8, color='#999999', linewidths=0)
ax3.scatter([x3lo] * len(p3_zero_alvus_y), 10 ** np.array(p3_zero_alvus_y), s=8, color='#bbbbbb', linewidths=0)
ax3.scatter(p3_x, p3_y, s=9, color='#808080', linewidths=0)
ax3.axline((1e-3, 1e-3), (1, 1), color='black', lw=0.9)
ax3.set_xlim(x3lo, x3hi)
ax3.set_ylim(y3lo, y3hi)
ax3.set_xticks([1e-3, 1e-1, 10])
ax3.set_xticklabels(['0.001', '0.1', '10'])
ax3.set_yticks([1e-3, 1e-1, 10])
ax3.set_yticklabels(['0.001', '0.1', '10'])
style(ax3)
ax3.tick_params(axis='y', pad=4)
ax3.tick_params(axis='x', pad=3)
ftext(703, 150, r'$\mathit{M.\ luminyensis}$, % of proteome', rotation=90, ha='center', va='center')
ftext(721, 172, 'per G.O', rotation=90, ha='center', va='center')
ftext(902, 315, r'$\mathit{M.\ alvus}$, % of proteome', ha='center', va='center')
ftext(893, 330, 'per GO', ha='center', va='center')
ftext(949, 244, 'rho = 0.8', ha='left', va='center')
ftext(949, 263, 'P=0', ha='left', va='center')

fig.savefig('out.png', dpi=100)
